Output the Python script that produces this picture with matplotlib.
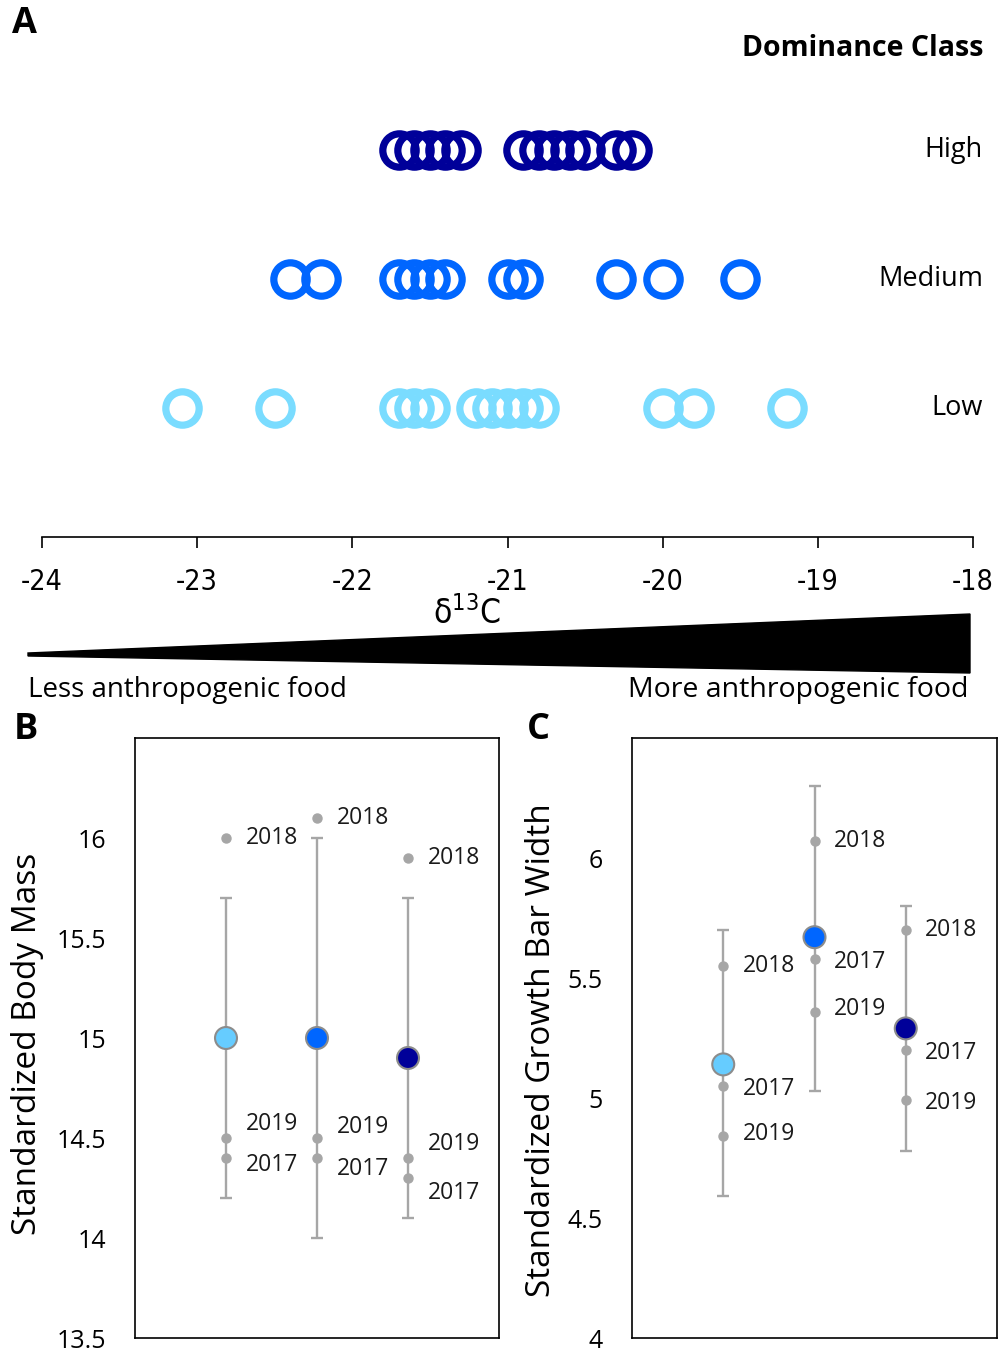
import numpy as np
import matplotlib
matplotlib.use("Agg")
import matplotlib.pyplot as plt
import matplotlib.transforms as mtransforms
from matplotlib.patches import Polygon
from matplotlib import font_manager

plt.rcParams["font.family"] = ["Open Sans", "DejaVu Sans"]

installed = {f.name for f in font_manager.fontManager.ttflist}
narrow = "Liberation Sans Narrow" if "Liberation Sans Narrow" in installed else "DejaVu Sans"

# d13C of individuals, one list per dominance class
classes = ["Low", "Medium", "High"]
low_d13c = [-23.1, -22.5, -21.7, -21.6, -21.5, -21.2, -21.1, -21.0, -20.9, -20.8,
            -20.0, -19.8, -19.2]
medium_d13c = [-22.4, -22.2, -21.7, -21.6, -21.5, -21.4, -21.0, -20.9, -20.3, -20.0, -19.5]
high_d13c = [-21.7, -21.6, -21.5, -21.4, -21.3, -20.9, -20.8, -20.7, -20.6, -20.5,
             -20.3, -20.2]
d13c_ticks = [-24, -23, -22, -21, -20, -19, -18]

# standardized body mass: class mean, error bar ends, yearly means
mass_mean = [15.0, 15.0, 14.9]
mass_lo = [14.2, 14.0, 14.1]
mass_hi = [15.7, 16.0, 15.7]
mass_2017 = [14.4, 14.4, 14.3]
mass_2018 = [16.0, 16.1, 15.9]
mass_2019 = [14.5, 14.5, 14.4]
mass_ticks = [13.5, 14, 14.5, 15, 15.5, 16]

# standardized growth bar width
width_mean = [5.14, 5.67, 5.29]
width_lo = [4.59, 5.03, 4.78]
width_hi = [5.70, 6.30, 5.80]
width_2017 = [5.05, 5.58, 5.20]
width_2018 = [5.55, 6.07, 5.70]
width_2019 = [4.84, 5.36, 4.99]
width_ticks = [4, 4.5, 5, 5.5, 6]

years = ["2017", "2018", "2019"]

ring_colors = ["#7ADCFF", "#0066FF", "#000099"]
mean_colors = ["#66CCFF", "#0066FF", "#000099"]
grey = "#A6A6A6"

W, H = 1000, 1351
fig = plt.figure(figsize=(W / 100, H / 100), dpi=100)


def fx(px):
    return px / W


def fy(py):
    return 1 - py / H


# ---- panel A: isotope rings ----
axA = fig.add_axes([fx(42), fy(537), fx(931), (537 - 100) / H])
for i, vals in enumerate([low_d13c, medium_d13c, high_d13c]):
    axA.plot(vals, [i] * len(vals), ls="none", marker="o", ms=24, mfc="none",
             mec=ring_colors[i], mew=5.2, clip_on=False)
axA.set_xlim(-24, -18)
axA.set_ylim(-1, 2.39)
for s in ["left", "right", "top"]:
    axA.spines[s].set_visible(False)
axA.spines["bottom"].set_linewidth(1.2)
axA.set_yticks([])
axA.set_xticks(d13c_ticks)
axA.set_xticklabels([str(t) for t in d13c_ticks], family=narrow,
                    stretch="condensed", fontsize=20.5)
axA.tick_params(axis="x", direction="out", length=8, width=1.2, pad=14)

row_tr = mtransforms.blended_transform_factory(fig.transFigure, axA.transData)
for i, name in enumerate(classes):
    axA.text(fx(983), i, name, transform=row_tr, ha="right", va="center", fontsize=19.5)

fig.text(fx(983), fy(48), "Dominance Class", ha="right", va="center",
         fontsize=20.5, weight="bold")
fig.text(fx(12), fy(24), "A", ha="left", va="center", fontsize=26, weight="bold")

fig.text(fx(467), fy(614), "δ$^{\\mathregular{13}}$C", ha="center", va="center",
         family=narrow, stretch="condensed", fontsize=24)
wedge = Polygon([(fx(28), fy(653)), (fx(970), fy(614)), (fx(970), fy(673)),
                 (fx(28), fy(656))], closed=True, facecolor="black",
                edgecolor="black", transform=fig.transFigure)
fig.add_artist(wedge)
fig.text(fx(28), fy(690), "Less anthropogenic food", ha="left", va="center", fontsize=20)
fig.text(fx(969), fy(690), "More anthropogenic food", ha="right", va="center", fontsize=20.5)


# ---- panels B and C: class means with yearly means ----
def dot_panel(ax, mean, lo, hi, yearly, ylim, ticks, ylabel, label_dy):
    x = np.arange(1, len(mean) + 1)
    yerr = [np.subtract(mean, lo), np.subtract(hi, mean)]
    ax.errorbar(x, mean, yerr=yerr, fmt="none", ecolor=grey, elinewidth=1.7,
                capsize=4, capthick=1.7, zorder=1)
    for yr, vals, dys in zip(years, yearly, label_dy):
        ax.plot(x, vals, ls="none", marker="o", ms=6.5, color=grey, zorder=2)
        for xi, v, dy in zip(x, vals, dys):
            ax.annotate(yr, (xi, v), xytext=(14, dy), textcoords="offset points",
                        ha="left", va="center", fontsize=16.5, color="#1a1a1a")
    ax.scatter(x, mean, s=250, c=mean_colors, edgecolors="#8C8C8C", linewidths=1.5,
               zorder=3)
    ax.set_xlim(0, len(mean) + 1)
    ax.set_ylim(*ylim)
    ax.set_xticks([])
    ax.set_yticks(ticks)
    ax.set_yticklabels([f"{t:g}" for t in ticks])
    ax.tick_params(axis="y", length=0, pad=21, labelsize=18)
    for s in ax.spines.values():
        s.set_linewidth(1.2)
    ax.set_ylabel(ylabel, fontsize=24, va="center")


axB = fig.add_axes([fx(135), fy(1338), fx(364), 600 / H])
dot_panel(axB, mass_mean, mass_lo, mass_hi, [mass_2017, mass_2018, mass_2019],
          (13.5, 16.5), mass_ticks, "Standardized Body Mass",
          [[-5, -8, -11], [0, 0, 0], [10, 8, 10]])
axB.yaxis.set_label_coords((28 - 135) / 364, 0.49)

axC = fig.add_axes([fx(632), fy(1338), fx(365), 600 / H])
dot_panel(axC, width_mean, width_lo, width_hi, [width_2017, width_2018, width_2019],
          (4, 6.5), width_ticks, "Standardized Growth Bar Width",
          [[-2, -2, -2], [0, 0, 0], [2, 2, -2]])
axC.yaxis.set_label_coords((541 - 632) / 365, 0.48)

fig.text(fx(14), fy(730), "B", ha="left", va="center", fontsize=26, weight="bold")
fig.text(fx(527), fy(730), "C", ha="left", va="center", fontsize=26, weight="bold")

fig.savefig("out.png", dpi=100)
